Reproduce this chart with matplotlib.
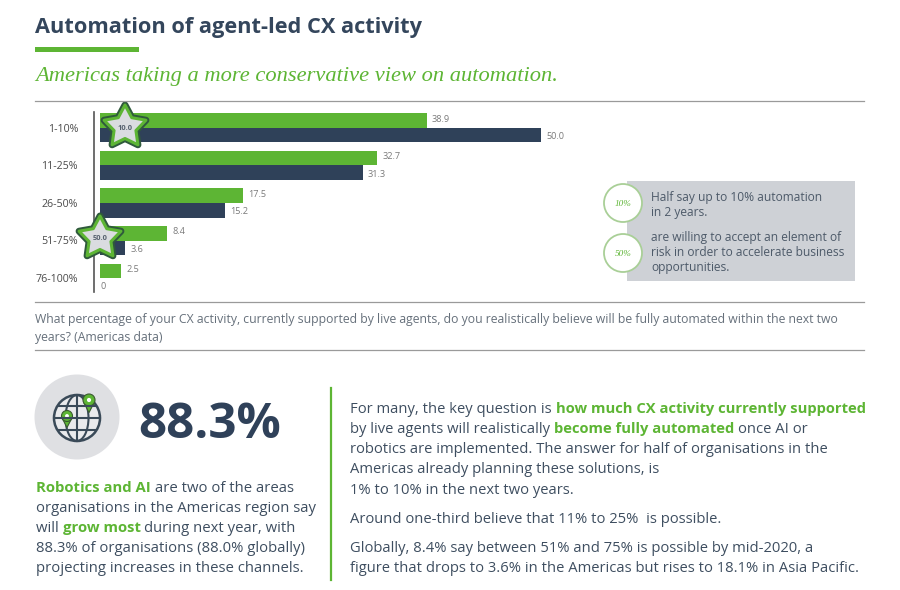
import numpy as np
import matplotlib
matplotlib.use("Agg")
import matplotlib.pyplot as plt
from matplotlib.patches import Circle, Ellipse, Polygon, Rectangle

categories = ["1-10%", "11-25%", "26-50%", "51-75%", "76-100%"]
green_labels = ["38.9", "32.7", "17.5", "8.4", "2.5"]
dark_labels = ["50.0", "31.3", "15.2", "3.6", "0"]
# drawn lengths as measured in the picture (the source bars are not strictly to scale)
green_lengths = [38.9, 33.0, 17.0, 8.0, 2.5]
dark_lengths = [52.5, 31.3, 14.9, 3.0, 0]

GREEN = "#5DB534"
DARK = "#2F4159"
BODY = "#3E4E60"
FONT = "Open Sans"

fig = plt.figure(figsize=(9, 5.9), dpi=100, facecolor="white")
W, H = 900, 590

# Bars
L, R, T, B = 94, 600, 112, 292
ax = fig.add_axes([L / W, 1 - B / H, (R - L) / W, (B - T) / H])
scale = 8.4
ax.set_xlim(-6 / scale, (R - 100) / scale)
ax.set_ylim((B - 128) / 37.5, (T - 128) / 37.5)
y = np.arange(len(categories))
h = 14.5 / 37.5
ax.barh(y - h / 2, green_lengths, h, color=GREEN, clip_on=False)
ax.barh(y + h / 2, dark_lengths, h, color=DARK, clip_on=False)
for i in y:
    ax.text(green_lengths[i] + 0.6, i - h / 2 - 0.04, green_labels[i], fontsize=6.6, color="#7A7A7A",
            va="center", family=FONT)
    off = 0.6 if dark_lengths[i] > 0 else 0.05
    ax.text(dark_lengths[i] + off, i + h / 2 + 0.04, dark_labels[i], fontsize=6.6, color="#7A7A7A",
            va="center", family=FONT, clip_on=False)
ax.set_yticks(y, categories, fontsize=7.7, color="#4A4A4A", family=FONT)
ax.set_xticks([])
ax.tick_params(axis="y", length=0, pad=11.5)
for s in ["top", "right", "bottom"]:
    ax.spines[s].set_visible(False)
ax.spines["left"].set_color("#555555")
ax.spines["left"].set_linewidth(1.2)
ax.patch.set_alpha(0)

# Overlay in pixel coordinates
ov = fig.add_axes([0, 0, 1, 1], zorder=5)
ov.set_xlim(0, W)
ov.set_ylim(H, 0)
ov.axis("off")
ov.patch.set_alpha(0)


def segs(x, y, parts, size, color=BODY):
    r = fig.canvas.get_renderer()
    for s, bold in parts:
        t = ov.text(x, y, s, fontsize=size, family=FONT, va="baseline",
                    color=GREEN if bold else color, fontweight="bold" if bold else "normal")
        x += t.get_window_extent(r).width


# Header
ov.text(35, 33, "Automation of agent-led CX activity", fontsize=15.7, fontweight="bold", family=FONT, color="#34465C")
ov.add_patch(Rectangle((35, 47), 104, 5, color=GREEN, lw=0))
ov.text(35, 81, "Americas taking a more conservative view on automation.", fontsize=16.2, style="italic",
        family="Liberation Serif", color=GREEN)
for yy in (100.5, 301.5, 349.5):
    ov.plot([35, 864], [yy, yy], color="#9A9A9A", lw=0.9)

# Stars
for cx, cy, lab in ((125, 127, "10.0"), (100, 238, "50.0")):
    ang = np.deg2rad(-90 + 36 * np.arange(10))
    rad = np.where(np.arange(10) % 2 == 0, 22, 11.5)
    pts = np.c_[cx + rad * np.cos(ang), cy + rad * np.sin(ang)]
    ov.add_patch(Polygon(pts, closed=True, fc="none", ec="#2F5A3C", lw=5.0, joinstyle="round"))
    ov.add_patch(Polygon(pts, closed=True, fc="#DADCE0", ec=GREEN, lw=2.2, joinstyle="round"))
    ov.text(cx, cy + 1, lab, fontsize=5.4, fontweight="bold", color="#55606E", ha="center", va="center", family=FONT)

# Callout
ov.add_patch(Rectangle((627, 181), 228, 100, color="#CED1D6", lw=0))
for cy, lab in ((203, "10%"), (253, "50%")):
    ov.add_patch(Circle((623, cy), 19, fc="white", ec="#A9CF97", lw=1.3))
    ov.text(623, cy + 0.5, lab, fontsize=6.6, style="italic", family="Liberation Serif", color=GREEN,
            ha="center", va="center")
for yy, s in ((201, "Half say up to 10% automation"), (216, "in 2 years."),
              (241, "are willing to accept an element of"), (256, "risk in order to accelerate business"),
              (271, "opportunities.")):
    ov.text(651, yy, s, fontsize=8.65, family=FONT, color="#4D5A69")

# Question
ov.text(35, 323, "What percentage of your CX activity, currently supported by live agents, do you realistically believe will be fully automated within the next two",
        fontsize=8.8, family=FONT, color="#66707B")
ov.text(35, 341, "years? (Americas data)", fontsize=8.8, family=FONT, color="#66707B")

# Globe icon
ov.add_patch(Circle((77, 417), 42.5, fc="#DFE0E3", ec="none"))
gc = (77, 418)
ov.add_patch(Circle(gc, 23, fc="#E9EAEC", ec="#3A4A58", lw=1.8))
ov.add_patch(Ellipse(gc, 23, 46, fc="none", ec="#3A4A58", lw=1.5))
ov.plot([77, 77], [395, 441], color="#3A4A58", lw=1.5)
ov.plot([54, 100], [418, 418], color="#3A4A58", lw=1.5)
ov.plot([58, 96], [406, 406], color="#3A4A58", lw=1.5)
ov.plot([58, 96], [430, 430], color="#3A4A58", lw=1.5)
for px, py, r in ((67, 416, 5.5), (89, 400, 6)):
    ov.add_patch(Polygon([(px - r * 0.85, py + r * 0.45), (px, py + r * 2.1), (px + r * 0.85, py + r * 0.45)],
                         closed=True, fc=GREEN, ec="#3A5A30", lw=0.8))
    ov.add_patch(Circle((px, py), r, fc=GREEN, ec="#3A5A30", lw=0.8))
    ov.add_patch(Circle((px, py), r * 0.35, fc="white", ec="none"))

ov.text(138, 438, "88.3%", fontsize=35.5, fontweight="bold", family=FONT, color="#2F4159")

# Left text
S = 10.7
segs(36, 492, [("Robotics and AI ", True), ("are two of the areas", False)], S)
segs(36, 512, [("organisations in the Americas region say", False)], S)
segs(36, 532, [("will ", False), ("grow most ", True), ("during next year, with", False)], S)
segs(36, 552, [("88.3% of organisations (88.0% globally)", False)], S)
segs(36, 572, [("projecting increases in these channels.", False)], S)

ov.plot([331, 331], [388, 580], color=GREEN, lw=1.6)

# Right text
S2 = 10.6
segs(350, 413, [("For many, the key question is ", False), ("how much CX activity currently supported", True)], S2)
segs(350, 433, [("by live agents will realistically ", False), ("become fully automated ", True), ("once AI or", False)], S2)
segs(350, 453, [("robotics are implemented. The answer for half of organisations in the", False)], S2)
segs(350, 473, [("Americas already planning these solutions, is", False)], S2)
segs(350, 494, [("1% to 10% in the next two years.", False)], S2)
segs(350, 523, [("Around one-third believe that 11% to 25%  is possible.", False)], S2)
segs(350, 552, [("Globally, 8.4% say between 51% and 75% is possible by mid-2020, a", False)], S2)
segs(350, 572, [("figure that drops to 3.6% in the Americas but rises to 18.1% in Asia Pacific.", False)], S2)

fig.savefig("out.png", dpi=100)
